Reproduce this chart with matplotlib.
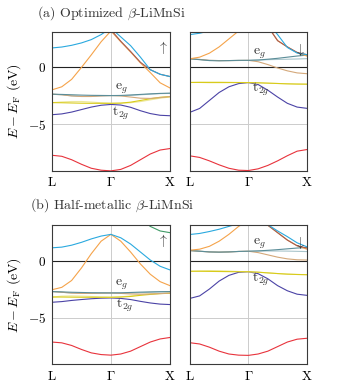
import numpy as np
import matplotlib
matplotlib.use("Agg")
import matplotlib.pyplot as plt

plt.rcParams['font.family'] = 'serif'
plt.rcParams['font.serif'] = ['cmr10']
plt.rcParams['mathtext.fontset'] = 'cm'
plt.rcParams['axes.formatter.use_mathtext'] = True

# k-path: L -> Gamma -> X, 13 sample points
k_ticks = [0, 1, 2]
k_labels = [r'$\mathrm{L}$', r'$\Gamma$', r'$\mathrm{X}$']
y_ticks = [-5, 0]
y_ticklabels = [r'$-5$', r'$0$']

# ---------- (a) optimized, spin up ----------
a_up_red      = [-7.71, -7.80, -8.10, -8.50, -8.85, -9.02, -9.08, -8.95, -8.60, -8.10, -7.60, -7.25, -7.12]
a_up_blue     = [-4.15, -4.08, -3.92, -3.70, -3.48, -3.32, -3.25, -3.30, -3.50, -3.80, -4.05, -4.20, -4.24]
a_up_khaki    = [-3.09, -3.03, -2.99, -2.99, -3.04, -3.10, -3.15, -3.15, -3.10, -3.00, -2.85, -2.70, -2.60]
a_up_yellow   = [-3.09, -3.10, -3.12, -3.14, -3.15, -3.15, -3.15, -3.13, -3.05, -2.90, -2.75, -2.62, -2.56]
a_up_greyblue = [-2.35, -2.40, -2.50, -2.55, -2.55, -2.50, -2.47, -2.48, -2.45, -2.40, -2.35, -2.30, -2.28]
a_up_tan      = [-2.35, -2.40, -2.50, -2.55, -2.55, -2.50, -2.47, -2.50, -2.60, -2.70, -2.72, -2.65, -2.56]
a_up_teal     = [-2.35, -2.37, -2.40, -2.43, -2.45, -2.46, -2.47, -2.46, -2.42, -2.37, -2.32, -2.28, -2.26]
a_up_orange   = [-1.97, -1.70, -1.05, 0.00, 1.10, 2.25, 3.20, 2.25, 1.35, 0.40, -0.45, -1.35, -1.80]
a_up_brown    = [4.20, 4.20, 4.20, 4.20, 4.20, 4.20, 3.30, 2.30, 1.40, 0.45, -0.20, -0.60, -0.80]
a_up_cyan     = [1.71, 1.79, 1.94, 2.15, 2.44, 2.88, 3.45, 2.68, 1.91, 0.90, -0.20, -0.60, -0.80]

# ---------- (a) optimized, spin down ----------
a_dn_red      = [-7.76, -7.90, -8.20, -8.55, -8.85, -9.02, -9.05, -8.90, -8.60, -8.20, -7.75, -7.35, -7.21]
a_dn_blue     = [-3.94, -3.60, -2.90, -2.20, -1.70, -1.42, -1.33, -1.50, -2.00, -2.60, -3.15, -3.48, -3.59]
a_dn_khaki    = [-1.32, -1.29, -1.28, -1.28, -1.30, -1.32, -1.33, -1.35, -1.38, -1.41, -1.44, -1.46, -1.47]
a_dn_yellow   = [-1.32, -1.32, -1.33, -1.33, -1.33, -1.33, -1.33, -1.35, -1.38, -1.41, -1.44, -1.46, -1.47]
a_dn_tan      = [0.76, 0.70, 0.62, 0.60, 0.60, 0.61, 0.62, 0.50, 0.25, -0.05, -0.30, -0.48, -0.55]
a_dn_greyblue = [0.76, 0.70, 0.62, 0.60, 0.60, 0.61, 0.62, 0.64, 0.68, 0.70, 0.72, 0.74, 0.77]
a_dn_teal     = [0.76, 0.68, 0.60, 0.58, 0.60, 0.62, 0.62, 0.65, 0.72, 0.80, 0.90, 1.00, 1.08]
a_dn_orange   = [0.76, 0.90, 1.25, 1.80, 2.50, 3.20, 3.60, 4.00, 3.60, 2.35, 1.80, 1.30, 1.00]
a_dn_brown    = [4.20, 4.20, 4.20, 4.20, 4.20, 4.20, 4.20, 4.00, 3.60, 2.35, 1.80, 1.32, 1.12]
a_dn_cyan     = [2.88, 3.00, 3.20, 3.50, 3.80, 4.00, 4.10, 4.10, 3.90, 2.88, 1.75, 1.26, 1.12]

# ---------- (b) half-metallic, spin up ----------
b_up_red      = [-7.15, -7.22, -7.45, -7.80, -8.10, -8.25, -8.30, -8.20, -7.95, -7.55, -7.15, -6.88, -6.75]
b_up_blue     = [-3.66, -3.60, -3.50, -3.42, -3.35, -3.30, -3.28, -3.32, -3.42, -3.58, -3.72, -3.82, -3.86]
b_up_khaki    = [-3.20, -3.12, -3.10, -3.12, -3.15, -3.20, -3.22, -3.18, -3.10, -3.00, -2.92, -2.88, -2.86]
b_up_yellow   = [-3.20, -3.20, -3.21, -3.22, -3.22, -3.22, -3.22, -3.20, -3.15, -3.05, -2.97, -2.90, -2.87]
b_up_greyblue = [-2.72, -2.78, -2.85, -2.88, -2.88, -2.86, -2.84, -2.86, -2.85, -2.82, -2.78, -2.75, -2.74]
b_up_tan      = [-2.72, -2.78, -2.85, -2.88, -2.88, -2.86, -2.84, -2.88, -2.93, -2.95, -2.93, -2.90, -2.85]
b_up_teal     = [-2.72, -2.75, -2.78, -2.80, -2.82, -2.83, -2.84, -2.83, -2.80, -2.77, -2.75, -2.73, -2.72]
b_up_orange   = [-2.56, -2.35, -1.75, -0.65, 0.60, 1.70, 2.30, 1.70, 0.75, -0.30, -1.20, -1.85, -2.20]
b_up_cyan     = [1.12, 1.18, 1.35, 1.60, 1.90, 2.15, 2.30, 2.00, 1.45, 0.75, 0.05, -0.50, -0.82]
b_up_green    = [4.50, 4.50, 4.50, 4.50, 4.50, 4.50, 4.50, 4.40, 4.20, 3.70, 3.00, 2.60, 2.45]

# ---------- (b) half-metallic, spin down ----------
b_dn_red      = [-7.21, -7.32, -7.60, -7.95, -8.20, -8.30, -8.32, -8.20, -7.95, -7.55, -7.15, -6.90, -6.82]
b_dn_blue     = [-3.32, -3.10, -2.50, -1.80, -1.30, -1.03, -0.98, -1.15, -1.60, -2.20, -2.65, -2.95, -3.05]
b_dn_khaki    = [-0.94, -0.90, -0.88, -0.89, -0.92, -0.96, -0.98, -1.02, -1.08, -1.14, -1.19, -1.22, -1.24]
b_dn_yellow   = [-0.94, -0.94, -0.95, -0.96, -0.97, -0.98, -0.98, -1.02, -1.08, -1.14, -1.19, -1.22, -1.24]
b_dn_tan      = [0.88, 0.82, 0.76, 0.74, 0.76, 0.80, 0.82, 0.70, 0.50, 0.30, 0.15, 0.07, 0.05]
b_dn_greyblue = [0.88, 0.82, 0.76, 0.74, 0.76, 0.80, 0.82, 0.83, 0.84, 0.84, 0.83, 0.81, 0.79]
b_dn_teal     = [0.88, 0.82, 0.76, 0.74, 0.76, 0.80, 0.82, 0.85, 0.90, 0.96, 1.03, 1.10, 1.15]
b_dn_orange   = [0.91, 1.00, 1.25, 1.70, 2.30, 3.00, 3.50, 3.40, 3.10, 2.45, 1.80, 1.30, 1.00]
b_dn_brown    = [4.20, 4.20, 4.20, 4.20, 4.20, 4.20, 4.20, 3.40, 3.10, 2.45, 1.80, 1.30, 1.10]
b_dn_cyan     = [2.29, 2.38, 2.55, 2.75, 3.00, 3.25, 3.40, 3.40, 3.15, 2.60, 2.10, 1.56, 1.21]

colors = {
    'red': '#e8333c', 'blue': '#4b43a6', 'khaki': '#ede89a', 'yellow': '#d8cb1a',
    'greyblue': '#a9c5cb', 'tan': '#d4a87a', 'teal': '#5b8d98', 'orange': '#f5a34a',
    'brown': '#a65c50', 'cyan': '#2aa9df', 'green': '#3f9a66',
}

k = np.linspace(0, 2, 13)

panels = [
    ('a', 'up', [('red', a_up_red), ('blue', a_up_blue), ('khaki', a_up_khaki), ('yellow', a_up_yellow),
                 ('greyblue', a_up_greyblue), ('tan', a_up_tan), ('teal', a_up_teal),
                 ('orange', a_up_orange), ('brown', a_up_brown), ('cyan', a_up_cyan)]),
    ('a', 'dn', [('red', a_dn_red), ('blue', a_dn_blue), ('khaki', a_dn_khaki), ('yellow', a_dn_yellow),
                 ('greyblue', a_dn_greyblue), ('tan', a_dn_tan), ('teal', a_dn_teal),
                 ('orange', a_dn_orange), ('brown', a_dn_brown), ('cyan', a_dn_cyan)]),
    ('b', 'up', [('red', b_up_red), ('blue', b_up_blue), ('khaki', b_up_khaki), ('yellow', b_up_yellow),
                 ('greyblue', b_up_greyblue), ('tan', b_up_tan), ('teal', b_up_teal),
                 ('orange', b_up_orange), ('cyan', b_up_cyan), ('green', b_up_green)]),
    ('b', 'dn', [('red', b_dn_red), ('blue', b_dn_blue), ('khaki', b_dn_khaki), ('yellow', b_dn_yellow),
                 ('greyblue', b_dn_greyblue), ('tan', b_dn_tan), ('teal', b_dn_teal),
                 ('orange', b_dn_orange), ('brown', b_dn_brown), ('cyan', b_dn_cyan)]),
]

label_pos = {
    ('a', 'up'): ((1.07, -1.85), (1.02, -4.0)),
    ('a', 'dn'): ((1.08, 1.2), (1.06, -1.95)),
    ('b', 'up'): ((1.07, -2.1), (1.08, -3.95)),
    ('b', 'dn'): ((1.08, 1.45), (1.06, -1.65)),
}

fig = plt.figure(figsize=(3.44, 3.84), dpi=100)
rects = {
    ('a', 'up'): [0.151, 0.555, 0.343, 0.362],
    ('a', 'dn'): [0.552, 0.555, 0.340, 0.362],
    ('b', 'up'): [0.151, 0.052, 0.343, 0.362],
    ('b', 'dn'): [0.552, 0.052, 0.340, 0.362],
}
spine_col = '#3a3a3a'

for tag, spin, bands in panels:
    ax = fig.add_axes(rects[(tag, spin)])
    ax.set_xlim(0, 2)
    ax.set_ylim(-9.08, 3.12)
    ax.axvline(1, color='#cccccc', lw=0.7, zorder=0)
    ax.axhline(-5, color='#cccccc', lw=0.7, zorder=0)
    ax.axhline(0, color='#222222', lw=0.8, zorder=1)
    for cname, vals in bands:
        ax.plot(k, vals, color=colors[cname], lw=0.8, zorder=2)
    ax.set_xticks(k_ticks)
    ax.set_xticklabels(k_labels, fontsize=9.5)
    ax.set_yticks(y_ticks)
    if spin == 'up':
        ax.set_yticklabels(y_ticklabels, fontsize=9.5)
        ax.set_ylabel(r'$E-E_{\mathrm{F}}$ (eV)', fontsize=10, labelpad=4)
    else:
        ax.set_yticklabels([])
    ax.tick_params(length=0, pad=4)
    for s in ax.spines.values():
        s.set_color(spine_col)
        s.set_linewidth(0.8)
    (ex, ey), (tx, ty) = label_pos[(tag, spin)]
    ax.text(ex, ey, r'$\mathrm{e}_g$', fontsize=10, color='#333333', ha='left', va='center')
    ax.text(tx, ty, r'$\mathrm{t}_{2g}$', fontsize=10, color='#333333', ha='left', va='center')
    arrow = r'$\uparrow$' if spin == 'up' else r'$\downarrow$'
    ax.text(0.935, 0.89 if spin == 'up' else 0.87, arrow, transform=ax.transAxes, fontsize=10,
            ha='center', va='center', color='#333333')

fig.text(0.108, 0.966, r'(a) Optimized $\beta$-LiMnSi', fontsize=10, ha='left', va='center', color='#333333')
fig.text(0.087, 0.466, r'(b) Half-metallic $\beta$-LiMnSi', fontsize=10, ha='left', va='center', color='#333333')

fig.savefig('out.png', dpi=100)
